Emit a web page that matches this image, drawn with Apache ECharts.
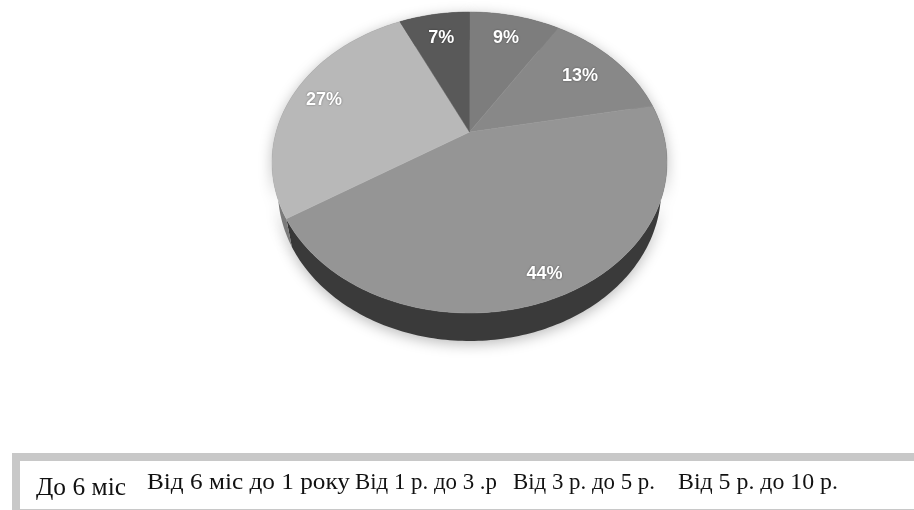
<!DOCTYPE html>
<html>
<head>
<meta charset="utf-8">
<script src="https://cdn.jsdelivr.net/npm/echarts@6/dist/echarts.min.js"></script>
<style>
  html, body { margin: 0; padding: 0; background: #fff; }
  #chart { width: 914px; height: 510px; }
</style>
</head>
<body>
<div id="chart"></div>
<script>
// Age groups and their shares (%), clockwise from 12 o'clock
const CATEGORIES = ['До 6 міс', 'Від 6 міс до 1 року', 'Від 1 р. до 3 .р', 'Від 3 р. до 5 р.', 'Від 5 р. до 10 р.'];
const SHARES = [9, 13, 44, 27, 7];

// Slice styling
const TOP_COLORS = ['#7d7d7d', '#888888', '#959595', '#b8b8b8', '#595959'];
const SIDE_COLORS = ['#4a4a4a', '#505050', '#3a3a3a', '#7a7a7a', '#303030'];
const LABEL_RADIUS = [0.78, 0.75, 0.88, 0.82, 0.77];

// Tilted-disc projection (perspective view of a flat pie)
const CX = 469.5, CY = 132, RX = 193.4, RY = 144.3, PERSP = 0.2027, DEPTH = 28, BOTTOM_SHRINK = 0.97;

function project(theta, r, bottom) {
  const u = r * Math.sin(theta);
  const v = -r * Math.cos(theta);
  const w = 1 - PERSP * v;
  const rx = bottom ? RX * BOTTOM_SHRINK : RX;
  return [CX + rx * u / w, CY + (bottom ? DEPTH : 0) + RY * v / w];
}

function arc(a0, a1, bottom) {
  const pts = [];
  const n = Math.max(2, Math.ceil(Math.abs(a1 - a0) / (Math.PI / 180)));
  for (let k = 0; k <= n; k++) pts.push(project(a0 + (a1 - a0) * k / n, 1, bottom));
  return pts;
}

const total = SHARES.reduce((s, v) => s + v, 0);
const startAt = [];
SHARES.reduce((acc, v, i) => { startAt[i] = acc; return acc + v; }, 0);

const chart = echarts.init(document.getElementById('chart'), null, { renderer: 'canvas' });

// Legend strip layout: left edge of each entry and its target width
const legendX = [36, 147, 355, 513, 678];
const legendW = [90, 203, 142, 142, 160];
const legendSize = [25, 23, 23, 23, 23];
const legendY = [488, 483, 483, 483, 483];

const measureCtx = document.createElement('canvas').getContext('2d');
function textWidth(text, size) {
  measureCtx.font = size + 'px "Liberation Serif"';
  return measureCtx.measureText(text).width;
}

chart.setOption({
  backgroundColor: '#ffffff',
  animation: false,
  series: [{
    type: 'custom',
    coordinateSystem: 'none',
    silent: true,
    data: SHARES.map((v, i) => ({ name: CATEGORIES[i], value: v })),
    renderItem: function (params, api) {
      const i = params.dataIndex;
      const val = api.value(0);
      const a0 = startAt[i] / total * Math.PI * 2;
      const a1 = a0 + val / total * Math.PI * 2;
      const topArc = arc(a0, a1, false);
      const bottomArc = arc(a1, a0, true);
      const mid = (a0 + a1) / 2;
      const lp = project(mid, LABEL_RADIUS[i], false);
      return {
        type: 'group',
        children: [
          {
            type: 'polygon',
            z2: 1,
            shape: { points: topArc.concat(bottomArc) },
            style: {
              fill: SIDE_COLORS[i],
              shadowBlur: 14,
              shadowColor: 'rgba(0,0,0,0.28)',
              shadowOffsetY: 3
            }
          },
          {
            type: 'polygon',
            z2: 10,
            shape: { points: [[CX, CY]].concat(topArc) },
            style: { fill: TOP_COLORS[i], stroke: TOP_COLORS[i], lineWidth: 0.5 }
          },
          {
            type: 'text',
            z2: 20,
            x: lp[0],
            y: lp[1],
            style: {
              text: val + '%',
              fill: '#ffffff',
              fontSize: 18,
              fontWeight: 'bold',
              fontFamily: 'Liberation Sans',
              align: 'center',
              verticalAlign: 'middle',
              textAlign: 'center',
              textVerticalAlign: 'middle',
              textShadowColor: 'rgba(0,0,0,0.45)',
              textShadowBlur: 2
            }
          }
        ]
      };
    }
  }],
  graphic: [
    {
      type: 'rect',
      z: 1,
      shape: { x: 16, y: 457, width: 910, height: 56 },
      style: { fill: '#ffffff', stroke: '#c8c8c8', lineWidth: 8 }
    }
  ].concat(CATEGORIES.map((name, i) => ({
    type: 'text',
    z: 2,
    x: legendX[i],
    y: legendY[i],
    scaleX: legendW[i] / textWidth(name, legendSize[i]),
    style: {
      text: name,
      fill: '#111111',
      fontSize: legendSize[i],
      fontFamily: 'Liberation Serif',
      align: 'left',
      verticalAlign: 'middle',
      textAlign: 'left',
      textVerticalAlign: 'middle'
    }
  })))
});
</script>
</body>
</html>
